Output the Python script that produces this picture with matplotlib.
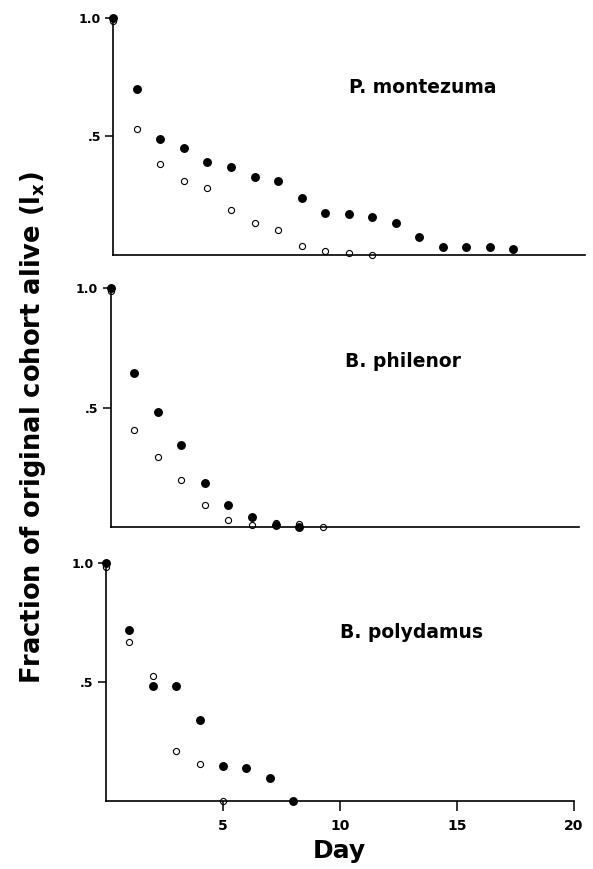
import matplotlib
matplotlib.use("Agg")
import matplotlib.pyplot as plt

# survivorship (lx), one point per day
mont_days_filled = list(range(0, 18))
mont_filled = [1.0, 0.70, 0.49, 0.45, 0.39, 0.37, 0.33, 0.31, 0.24, 0.175,
               0.17, 0.16, 0.135, 0.075, 0.03, 0.03, 0.03, 0.025]
mont_days_open = list(range(0, 12))
mont_open = [0.99, 0.53, 0.385, 0.31, 0.28, 0.19, 0.135, 0.105, 0.035, 0.015,
             0.005, 0.0]

phil_days_filled = list(range(0, 9))
phil_filled = [1.0, 0.645, 0.48, 0.345, 0.185, 0.09, 0.04, 0.01, 0.0]
phil_days_open = list(range(0, 10))
phil_open = [0.99, 0.405, 0.295, 0.195, 0.09, 0.03, 0.01, 0.015, 0.013, 0.0]

poly_days_filled = list(range(0, 9))
poly_filled = [1.0, 0.72, 0.485, 0.485, 0.34, 0.145, 0.14, 0.095, 0.0]
poly_days_open = list(range(0, 6))
poly_open = [0.985, 0.67, 0.525, 0.21, 0.155, 0.0]

species = ["P. montezuma", "B. philenor", "B. polydamus"]
ytick_vals = [0.5, 1.0]
ytick_labels = [".5", "1.0"]
xtick_vals = [5, 10, 15, 20]

plt.rcParams['font.family'] = 'DejaVu Sans'
plt.rcParams['font.weight'] = 'bold'
plt.rcParams['mathtext.default'] = 'bf'

fig = plt.figure(figsize=(5.93, 8.69), dpi=100, facecolor='white')

# [left, bottom, width, height], xmax for each panel
panels = [
    ([0.1911, 0.7071, 0.7956, 0.2718], 20.05),
    ([0.1867, 0.3936, 0.7903, 0.2747], 19.9),
    ([0.1788, 0.0783, 0.7892, 0.2735], 20.0),
]
data = [
    (mont_days_filled, mont_filled, mont_days_open, mont_open),
    (phil_days_filled, phil_filled, phil_days_open, phil_open),
    (poly_days_filled, poly_filled, poly_days_open, poly_open),
]
label_pos = [(10.0, 0.684), (9.95, 0.672), (10.0, 0.684)]

for i in range(3):
    rect, xmax = panels[i]
    ax = fig.add_axes(rect)
    df, vf, do, vo = data[i]
    ax.plot(do, vo, 'o', ms=4.4, mfc='none', mec='black', mew=0.8,
            clip_on=False, zorder=3)
    ax.plot(df, vf, 'o', ms=5.4, mfc='black', mec='black',
            clip_on=False, zorder=4)
    ax.set_xlim(0, xmax)
    ax.set_ylim(0, 1.0)
    ax.spines['top'].set_visible(False)
    ax.spines['right'].set_visible(False)
    ax.spines['left'].set_linewidth(1.2)
    ax.spines['bottom'].set_linewidth(1.2)
    ax.set_yticks(ytick_vals)
    ax.set_yticklabels(ytick_labels)
    ax.tick_params(axis='y', direction='out', length=6, width=1.1,
                   pad=3, labelsize=9)
    if i == 2:
        ax.set_xticks(xtick_vals)
        ax.set_xticklabels([str(v) for v in xtick_vals])
        ax.tick_params(axis='x', direction='out', length=7, width=1.1,
                       pad=6, labelsize=10)
    else:
        ax.set_xticks([])
    ax.text(label_pos[i][0], label_pos[i][1], species[i], fontsize=13.5,
            fontweight='bold', ha='left', va='baseline')

fig.text(0.056, 0.508, r'Fraction of original cohort alive (l$_\mathbf{x}$)',
         rotation=90, ha='center', va='center', fontsize=18.5,
         fontweight='bold')
fig.text(0.573, 0.0127, 'Day', ha='center', va='baseline', fontsize=18,
         fontweight='bold')

plt.savefig('out.png', dpi=100, facecolor='white')
